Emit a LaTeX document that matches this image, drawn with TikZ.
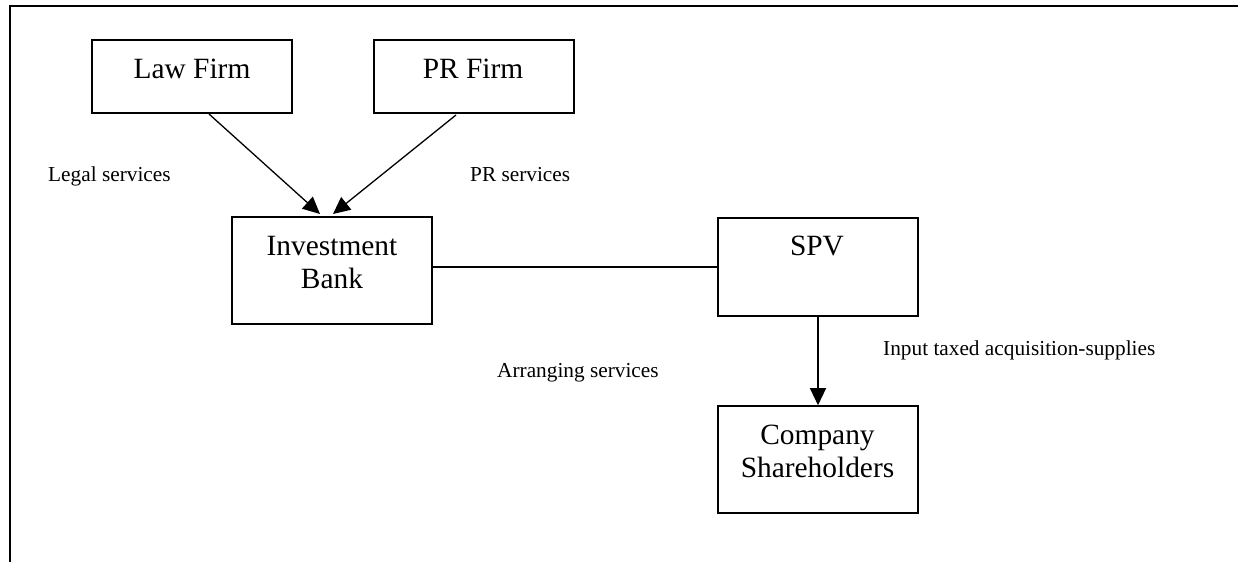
\documentclass[tikz,border=0pt]{standalone}
\usepackage{fontspec}
\setmainfont{Liberation Serif}
\usetikzlibrary{arrows.meta}
\begin{document}
\begin{tikzpicture}[x=1pt,y=-1pt,
  box/.style={draw, line width=1.6pt, inner sep=0pt, minimum width=200pt},
  boxtext/.style={font=\fontsize{29.4}{33}\selectfont, inner sep=0pt, anchor=base},
  lbl/.style={font=\fontsize{21.3}{25}\selectfont, inner sep=0pt, anchor=base west},
  conn/.style={line width=1.3pt},
  arr/.style={conn, -{Triangle[length=17pt,width=16pt]}},
  frameline/.style={line width=2pt}]
\useasboundingbox (0,0) rectangle (1247,562);
% frame
\coordinate (fbl) at (10,562);
\coordinate (ftl) at (10,6);
\coordinate (ftr) at (1238,6);
\draw[frameline] (fbl) -- (ftl) -- (ftr);
% boxes
\node[box, minimum height=73pt] (law) at (192,76.5) {};
\node[box, minimum height=73pt] (pr) at (474,76.5) {};
\node[box, minimum height=107pt] (ib) at (332,270.5) {};
\node[box, minimum height=98pt] (spv) at (818,267) {};
\node[box, minimum height=107pt] (cs) at (818,459.5) {};
% box texts
\node[boxtext] (lawt) at (192,78) {Law Firm};
\node[boxtext] (prt) at (473,78) {PR Firm};
\node[boxtext] (ibt1) at (332,255) {Investment};
\node[boxtext] (ibt2) at (332,288) {Bank};
\node[boxtext] (spvt) at (817,255) {SPV};
\node[boxtext] (cst1) at (817.5,444) {Company};
\node[boxtext] (cst2) at (817.5,477) {Shareholders};
% connectors
\coordinate (lawout) at (209,114);
\coordinate (ibinl) at (320,214);
\coordinate (prout) at (456,115);
\coordinate (ibinr) at (333,214);
\draw[arr] (lawout) -- (ibinl);
\draw[arr] (prout) -- (ibinr);
\draw[conn] (ib.east |- spv.west) -- (spv.west);
\draw[arr] (spv.south) -- (cs.north);
% labels
\node[lbl] (legal) at (48,181) {Legal services};
\node[lbl] (prs) at (470,181) {PR services};
\node[lbl] (arrg) at (497,377) {Arranging services};
\node[lbl] (inp) at (883,355) {Input taxed acquisition-supplies};
\end{tikzpicture}
\end{document}
